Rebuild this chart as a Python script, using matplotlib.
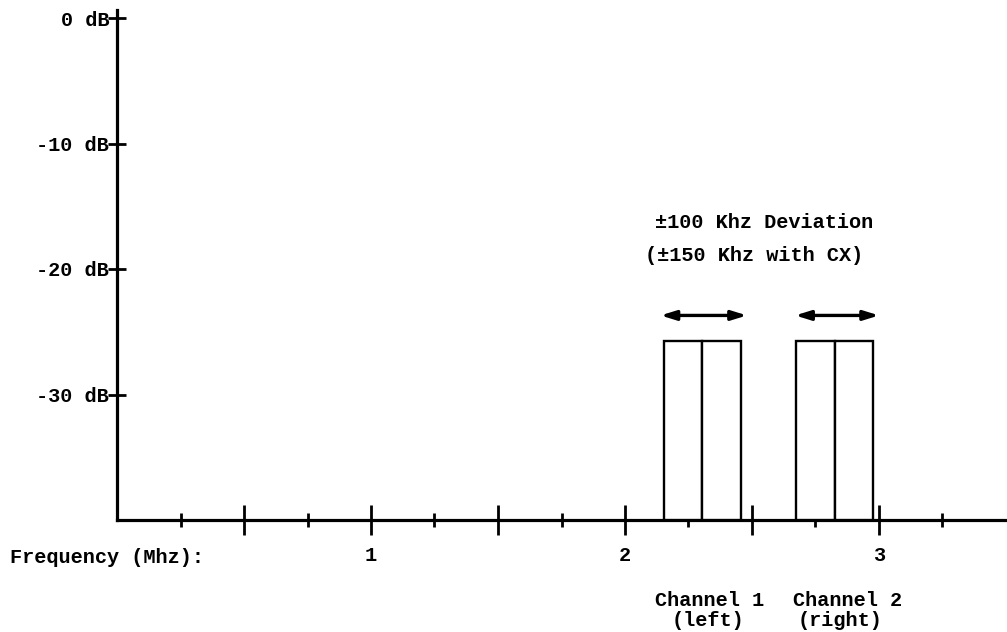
import matplotlib
matplotlib.use("Agg")
import matplotlib.pyplot as plt
from matplotlib.ticker import FixedLocator

# ---- data ----
channel_names = ["Channel 1", "Channel 2"]
channel_sides = ["(left)", "(right)"]
channel_centers_mhz = [2.305, 2.825]
deviation_mhz = 0.15
carrier_level_db = -25.7
floor_db = -40
arrow_level_db = -23.7
arrow_spans_mhz = [(2.14, 2.48), (2.67, 3.0)]
y_ticks_db = [0, -10, -20, -30]
y_tick_labels = ["0 dB", "-10 dB", "-20 dB", "-30 dB"]
x_major_ticks = [0.5, 1.0, 1.5, 2.0, 2.5, 3.0]
x_major_labels = ["", "1", "", "2", "", "3"]
x_minor_ticks = [0.25, 0.75, 1.25, 1.75, 2.25, 2.75, 3.25]

FONT = "Liberation Mono"
FS = 14.6
FW = "bold"

fig = plt.figure(figsize=(10.07, 6.32), dpi=100)
ax = fig.add_axes([0, 0, 1, 1])
ax.set_facecolor("white")

# pixel mapping: 0 MHz at x=117px, 254 px/MHz; 0 dB at y=18px, 12.55 px/dB
px_per_mhz = 254.0
px_per_db = 12.55
ax.set_xlim(-117 / px_per_mhz, (1007 - 117) / px_per_mhz)
ax.set_ylim(-(632 - 18) / px_per_db, 18 / px_per_db)

# spines as axes
for s in ["top", "right"]:
    ax.spines[s].set_visible(False)
ax.spines["left"].set_position(("data", 0))
ax.spines["bottom"].set_position(("data", floor_db))
ax.spines["left"].set_bounds(floor_db, 8 / px_per_db)
ax.spines["bottom"].set_bounds(0, (1007 - 117) / px_per_mhz)
ax.spines["left"].set_linewidth(2.3)
ax.spines["bottom"].set_linewidth(2.3)

# y ticks
ax.yaxis.set_major_locator(FixedLocator(y_ticks_db))
ax.set_yticklabels(y_tick_labels, fontfamily=FONT, fontsize=FS, fontweight=FW)
ax.tick_params(axis="y", direction="inout", length=13.5, width=2.0, pad=-1)
for lbl in ax.get_yticklabels():
    lbl.set_va("center_baseline")

# x ticks
ax.xaxis.set_major_locator(FixedLocator(x_major_ticks))
ax.xaxis.set_minor_locator(FixedLocator(x_minor_ticks))
ax.set_xticklabels(x_major_labels, fontfamily=FONT, fontsize=FS, fontweight=FW)
ax.tick_params(axis="x", which="major", direction="inout", length=21, width=2.0, pad=8)
ax.tick_params(axis="x", which="minor", direction="inout", length=10, width=2.0)

# carriers: each channel drawn as two adjacent bars (lower / upper deviation)
for c in channel_centers_mhz:
    ax.bar([c - deviation_mhz, c], carrier_level_db - floor_db, width=deviation_mhz,
           bottom=floor_db, align="edge", facecolor="white", edgecolor="black",
           linewidth=1.7, zorder=3)

# deviation arrows
for x0, x1 in arrow_spans_mhz:
    ax.annotate("", xy=(x1, arrow_level_db), xytext=(x0, arrow_level_db),
                arrowprops=dict(arrowstyle="<|-|>,head_length=0.9,head_width=0.28",
                                color="black", lw=2.4, shrinkA=0, shrinkB=0))

# annotations
txt = dict(fontfamily=FONT, fontsize=FS, fontweight=FW, ha="left", va="center")
ax.text(2.118, -16.33, "\u00b1100 Khz Deviation", **txt)
ax.text(2.079, -18.9, "(\u00b1150 Khz with CX)", **txt)
ax.text(-0.421, -43.0, "Frequency (Mhz):", **txt)
name_left = [2.118, 2.661]
side_left = [2.185, 2.681]
for name, side, xn, xs in zip(channel_names, channel_sides, name_left, side_left):
    ax.text(xn, -46.4, name, **txt)
    ax.text(xs, -48.0, side, **txt)

fig.savefig("out.png", dpi=100, facecolor="white")
